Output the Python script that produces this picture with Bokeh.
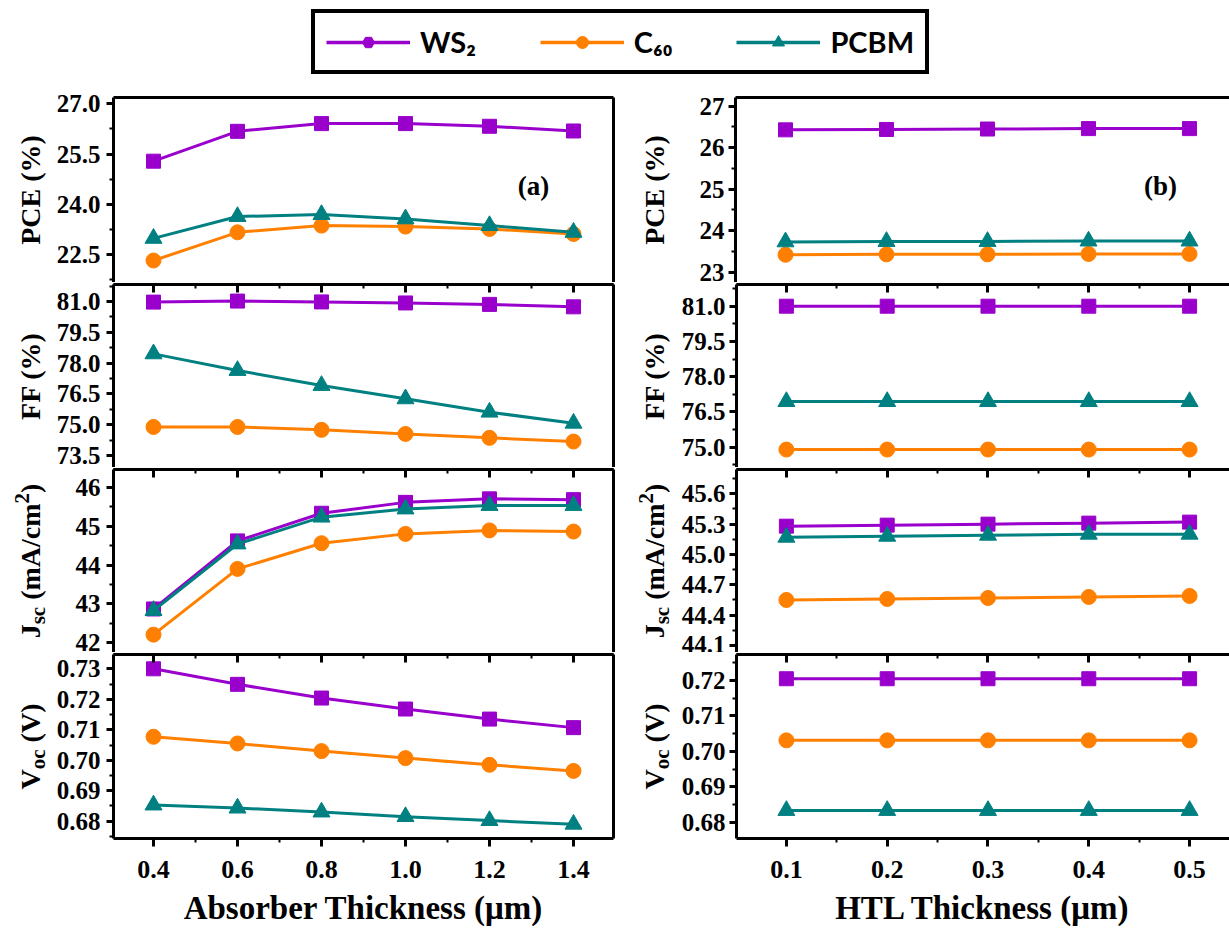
import math
from bokeh.plotting import figure
from bokeh.models import (Range1d, FixedTicker, LinearAxis, Label, Legend, LegendItem,
                          PrintfTickFormatter)
from bokeh.layouts import column, row
from bokeh.embed import file_html
from bokeh.resources import INLINE

# ---------------- data ----------------
series_names = ["WS\u2082", "C\u2086\u2080", "PCBM"]
absorber_x = [0.4, 0.6, 0.8, 1.0, 1.2, 1.4]
htl_x = [0.1, 0.2, 0.3, 0.4, 0.5]

pce_a_ws2 = [25.29, 26.18, 26.41, 26.41, 26.33, 26.19]
pce_a_c60 = [22.33, 23.17, 23.37, 23.34, 23.27, 23.12]
pce_a_pcbm = [22.99, 23.64, 23.70, 23.57, 23.37, 23.17]
ff_a_ws2 = [80.97, 81.02, 80.98, 80.93, 80.86, 80.74]
ff_a_c60 = [74.89, 74.89, 74.75, 74.55, 74.36, 74.18]
ff_a_pcbm = [78.45, 77.64, 76.91, 76.26, 75.61, 75.07]
jsc_a_ws2 = [42.87, 44.62, 45.33, 45.61, 45.70, 45.68]
jsc_a_c60 = [42.21, 43.90, 44.56, 44.80, 44.89, 44.86]
jsc_a_pcbm = [42.83, 44.54, 45.23, 45.44, 45.53, 45.53]
voc_a_ws2 = [0.7300, 0.7249, 0.7204, 0.7168, 0.7135, 0.7107]
voc_a_c60 = [0.7077, 0.7055, 0.7030, 0.7007, 0.6985, 0.6965]
voc_a_pcbm = [0.6853, 0.6843, 0.6830, 0.6815, 0.6802, 0.6790]

pce_b_ws2 = [26.43, 26.44, 26.45, 26.46, 26.46]
pce_b_c60 = [23.42, 23.43, 23.43, 23.44, 23.44]
pce_b_pcbm = [23.73, 23.74, 23.74, 23.75, 23.75]
ff_b_ws2 = [81.00, 81.00, 81.00, 81.00, 81.00]
ff_b_c60 = [74.90, 74.90, 74.90, 74.90, 74.90]
ff_b_pcbm = [76.94, 76.94, 76.94, 76.94, 76.94]
jsc_b_ws2 = [45.28, 45.29, 45.30, 45.31, 45.32]
jsc_b_c60 = [44.55, 44.56, 44.57, 44.58, 44.59]
jsc_b_pcbm = [45.17, 45.18, 45.19, 45.20, 45.20]
voc_b_ws2 = [0.7205, 0.7205, 0.7205, 0.7205, 0.7205]
voc_b_c60 = [0.7031, 0.7031, 0.7031, 0.7031, 0.7031]
voc_b_pcbm = [0.6833, 0.6833, 0.6833, 0.6833, 0.6833]

absorber_ticks = [0.4, 0.6, 0.8, 1.0, 1.2, 1.4]
htl_ticks = [0.1, 0.2, 0.3, 0.4, 0.5]
pce_a_ticks = [22.5, 24.0, 25.5, 27.0]
ff_a_ticks = [73.5, 75.0, 76.5, 78.0, 79.5, 81.0]
jsc_a_ticks = [42, 43, 44, 45, 46]
voc_a_ticks = [0.68, 0.69, 0.70, 0.71, 0.72, 0.73]
pce_b_ticks = [23, 24, 25, 26, 27]
ff_b_ticks = [75.0, 76.5, 78.0, 79.5, 81.0]
jsc_b_ticks = [44.1, 44.4, 44.7, 45.0, 45.3, 45.6]
voc_b_ticks = [0.68, 0.69, 0.70, 0.71, 0.72]

x_title_a = "Absorber Thickness (\u03bcm)"
x_title_b = "HTL Thickness (\u03bcm)"

# ---------------- style ----------------
COLORS = ["#9900CC", "#FF8000", "#008080"]
MARKERS = ["square", "circle", "triangle"]
SIZES = [14, 15, 17]
SERIF = "Liberation Serif"

CHAR_W = {"J": 0.5, "V": 0.722, "s": 0.389, "c": 0.444, "o": 0.5, " ": 0.25, "(": 0.333,
          "m": 0.833, "A": 0.722, "/": 0.278, "2": 0.5, ")": 0.333, "P": 0.611, "C": 0.722,
          "E": 0.667, "F": 0.611, "%": 1.0}


def text_w(t, size):
    return sum(CHAR_W.get(ch, 0.5) for ch in t) * size


def minors(ticks):
    step = ticks[1] - ticks[0]
    out = [ticks[0] - step / 2]
    for a, b in zip(ticks[:-1], ticks[1:]):
        out.append((a + b) / 2)
    out.append(ticks[-1] + step / 2)
    return out


def tick_only_axis(positions, length, width):
    # axis without labels: ticks drawn as inward "minor" ticks
    return LinearAxis(ticker=FixedTicker(ticks=[], minor_ticks=positions),
                      axis_line_width=3, axis_line_color="black",
                      major_tick_out=0, major_tick_in=0,
                      minor_tick_line_width=width, minor_tick_in=length, minor_tick_out=0,
                      major_label_standoff=0)


FRAME_H = [185, 183, 183, 184]
LAB_W = {True: 50, False: 45}
LAB_X = {True: 30, False: 21}


def borders(idx):
    return (7 if idx == 0 else 2), (100 if idx == 3 else 0)


def make_label_fig(left_col, idx, pieces):
    w = LAB_W[left_col]
    frame_h = FRAME_H[idx]
    mbt, mbb = borders(idx)
    f = figure(width=w, height=frame_h + mbt + mbb, x_range=Range1d(0, w),
               y_range=Range1d(0, frame_h), output_backend="svg", toolbar_location=None,
               min_border_left=0, min_border_right=0, min_border_top=mbt,
               min_border_bottom=mbb, outline_line_color=None,
               x_axis_location=None, y_axis_location=None)
    f.grid.visible = False
    total = sum(text_w(t, s) + g for t, s, _, g in pieces)
    y = frame_h / 2 - total / 2
    cx = LAB_X[left_col]
    for t, s, sh, g in pieces:
        wt = text_w(t, s)
        f.add_layout(Label(x=cx + sh, y=y + wt / 2, text=t, angle=math.pi / 2,
                           text_font=SERIF, text_font_size=f"{s}px", text_font_style="bold",
                           text_color="black", text_align="center", text_baseline="middle"))
        y += wt + g
    return f


def make_panel(left_col, idx, yr, yticks, yfmt, xs, series, tag=None):
    frame_h = FRAME_H[idx]
    mbt, mbb = borders(idx)
    if left_col:
        width, mbl, mbr = 633 - LAB_W[True], 113 - LAB_W[True], 20
        xr = (0.4 - 40 / 420, 1.4 + 40 / 420)
        xticks = absorber_ticks
        xtitle = x_title_a
    else:
        width, mbl, mbr = 596 - LAB_W[False], 102 - LAB_W[False], 0
        xr = (0.1 - 50 / 1010, 0.1 - 50 / 1010 + 494 / 1010)
        xticks = htl_ticks
        xtitle = x_title_b
    p = figure(width=width, height=frame_h + mbt + mbb, x_range=Range1d(*xr),
               y_range=Range1d(min(yr), max(yr)), output_backend="svg",
               toolbar_location=None, x_axis_location=None, y_axis_location=None,
               min_border_left=mbl, min_border_right=mbr, min_border_top=mbt,
               min_border_bottom=mbb, outline_line_color=None)
    p.grid.visible = False

    ya = LinearAxis(ticker=FixedTicker(ticks=yticks, minor_ticks=minors(yticks)),
                    formatter=PrintfTickFormatter(format=yfmt),
                    axis_line_width=3, axis_line_color="black",
                    major_tick_line_width=3, major_tick_out=7, major_tick_in=0,
                    minor_tick_line_width=2, minor_tick_out=4, minor_tick_in=0,
                    major_label_text_font=SERIF, major_label_text_font_style="bold",
                    major_label_text_font_size="25px", major_label_text_color="black",
                    major_label_standoff=6 if left_col else 4)
    p.add_layout(ya, "left")

    if idx == 0:
        p.add_layout(tick_only_axis([], 0, 1), "above")
    else:
        p.add_layout(tick_only_axis(xticks, 8, 3), "above")
        p.add_layout(tick_only_axis(minors(xticks), 4, 2), "above")

    if left_col:
        p.add_layout(tick_only_axis([], 0, 1), "right")

    if idx == 3:
        ba = LinearAxis(ticker=FixedTicker(ticks=xticks, minor_ticks=minors(xticks)),
                        formatter=PrintfTickFormatter(format="%.1f"),
                        axis_line_width=3, axis_line_color="black",
                        major_tick_line_width=3, major_tick_out=8, major_tick_in=0,
                        minor_tick_line_width=2, minor_tick_out=4, minor_tick_in=0,
                        major_label_text_font=SERIF, major_label_text_font_style="bold",
                        major_label_text_font_size="26px", major_label_text_color="black",
                        major_label_standoff=14,
                        axis_label=xtitle, axis_label_text_font=SERIF,
                        axis_label_text_font_style="bold", axis_label_text_font_size="33px",
                        axis_label_text_color="black", axis_label_standoff=9)
        p.add_layout(ba, "below")

    for vals, c, m, s in zip(series, COLORS, MARKERS, SIZES):
        p.line(xs, vals, line_color=c, line_width=3)
        p.scatter(xs, vals, marker=m, size=s, fill_color=c, line_color=c)

    if tag:
        p.add_layout(Label(x=tag[0], y=97, x_units="screen", y_units="screen", text=tag[1],
                           text_font=SERIF, text_font_size="27px", text_font_style="bold",
                           text_color="black", text_align="center", text_baseline="middle"))
    return p


M, S = 28, 21
SP = 0.25 * M
# (text, font size, shift to the right of the main baseline, gap after)
lab_pce = [("PCE (%)", M, 0, 0)]
lab_ff = [("FF (%)", M, 0, 0)]
lab_jsc = [("J", M, 0, 0), ("sc", S, 7, SP), ("(mA/cm", M, 0, 0), ("2", S, -9, 0), (")", M, 0, 0)]
lab_voc = [("V", M, 0, 0), ("oc", S, 7, SP), ("(V)", M, 0, 0)]

a_panels = [
    make_panel(True, 0, (27.0 + 6.3 / 33.56, 22.5 - 27.7 / 33.56), pce_a_ticks, "%.1f",
               absorber_x, [pce_a_ws2, pce_a_c60, pce_a_pcbm], tag=(420, "(a)")),
    make_panel(True, 1, (81.0 + 17 / 20.53, 73.5 - 12 / 20.53), ff_a_ticks, "%.1f",
               absorber_x, [ff_a_ws2, ff_a_c60, ff_a_pcbm]),
    make_panel(True, 2, (46 + 17.7 / 38.9, 42 - 9.7 / 38.9), jsc_a_ticks, "%d",
               absorber_x, [jsc_a_ws2, jsc_a_c60, jsc_a_pcbm]),
    make_panel(True, 3, (0.73 + 14.3 / 3048, 0.68 - 17.3 / 3048), voc_a_ticks, "%.2f",
               absorber_x, [voc_a_ws2, voc_a_c60, voc_a_pcbm]),
]
b_panels = [
    make_panel(False, 0, (27 + 8.7 / 41.5, 23 - 10.3 / 41.5), pce_b_ticks, "%d",
               htl_x, [pce_b_ws2, pce_b_c60, pce_b_pcbm], tag=(425, "(b)")),
    make_panel(False, 1, (81 + 21.7 / 23.5, 75 - 20.3 / 23.5), ff_b_ticks, "%.1f",
               htl_x, [ff_b_ws2, ff_b_c60, ff_b_pcbm]),
    make_panel(False, 2, (45.6 + 24.3 / 101.1, 44.1 - 7 / 101.1), jsc_b_ticks, "%.1f",
               htl_x, [jsc_b_ws2, jsc_b_c60, jsc_b_pcbm]),
    make_panel(False, 3, (0.72 + 26 / 3542, 0.68 - 16.3 / 3542), voc_b_ticks, "%.2f",
               htl_x, [voc_b_ws2, voc_b_c60, voc_b_pcbm]),
]
labels = [lab_pce, lab_ff, lab_jsc, lab_voc]

rows = []
for i in range(4):
    rows.append(row(make_label_fig(True, i, labels[i]), a_panels[i],
                    make_label_fig(False, i, labels[i]), b_panels[i], spacing=0))

# ---------------- legend strip ----------------
lp = figure(width=1229, height=90, x_range=Range1d(0, 1), y_range=Range1d(0, 1),
            output_backend="svg", toolbar_location=None, min_border=0,
            outline_line_color=None, x_axis_location=None, y_axis_location=None)
lp.grid.visible = False
items = []
for name, vals, c, m, s in zip(series_names, [pce_a_ws2, pce_a_c60, pce_a_pcbm], COLORS,
                               ["hex", "circle", "triangle"], [20, 19, 21]):
    # renderers for the legend swatches only (their data lies outside this strip's ranges)
    lr = lp.line(x=absorber_x, y=vals, line_color=c, line_width=3.5)
    sr = lp.scatter(x=absorber_x, y=vals, marker=m, size=s, fill_color=c, line_color=c)
    items.append(LegendItem(label=name, renderers=[lr, sr]))
legend = Legend(items=items, orientation="horizontal", location=(311, 16),
                border_line_color="black", border_line_width=4.5, border_line_alpha=1.0,
                padding=11, spacing=64,
                glyph_width=84, glyph_height=30, label_standoff=10, label_height=30,
                label_text_font="Lato", label_text_font_style="bold",
                label_text_font_size="29px", label_text_color="black", margin=0,
                background_fill_color="white", background_fill_alpha=1)
lp.add_layout(legend, "center")

layout = column(lp, *rows, spacing=0)

open("out.html", "w").write(file_html(layout, INLINE))
